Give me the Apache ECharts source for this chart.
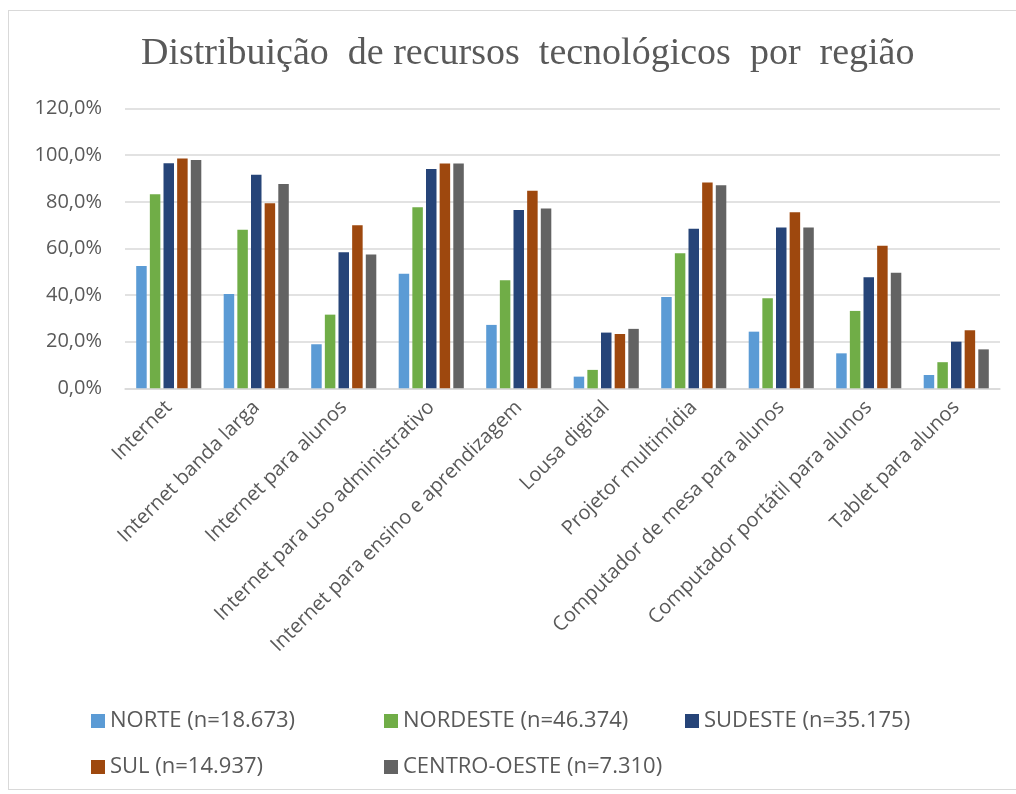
<!DOCTYPE html>
<html>
<head>
<meta charset="utf-8">
<script src="https://cdn.jsdelivr.net/npm/echarts@6/dist/echarts.min.js"></script>
<style>
  html, body { margin: 0; padding: 0; background: #fff; }
  #frame {
    position: absolute;
    left: 8px; top: 10px;
    width: 1020px; height: 780px;
    border: 1px solid #d9d9d9;
    box-sizing: border-box;
  }
  #chart { position: absolute; left: 0; top: 0; width: 1016px; height: 794px; }
</style>
</head>
<body>
<div id="frame"></div>
<div id="chart"></div>
<script>
  // categorias do eixo x
  var categories = [
    'Internet',
    'Internet banda larga',
    'Internet para alunos',
    'Internet para uso administrativo',
    'Internet para ensino e aprendizagem',
    'Lousa digital',
    'Projetor multimídia',
    'Computador de mesa para alunos',
    'Computador portátil para alunos',
    'Tablet para alunos'
  ];

  var seriesNames = ['NORTE (n=18.673)', 'NORDESTE (n=46.374)', 'SUDESTE (n=35.175)', 'SUL (n=14.937)', 'CENTRO-OESTE (n=7.310)'];

  var norte = [52.5, 40.5, 18.9, 49.1, 27.2, 5.0, 39.2, 24.3, 15.0, 5.7];
  var nordeste = [83.3, 68.0, 31.6, 77.7, 46.4, 7.9, 57.9, 38.6, 33.2, 11.2];
  var sudeste = [96.6, 91.6, 58.4, 94.1, 76.5, 23.9, 68.4, 69.0, 47.6, 20.0];
  var sul = [98.6, 79.4, 70.0, 96.4, 84.8, 23.3, 88.3, 75.5, 61.2, 24.9];
  var centroOeste = [98.0, 87.7, 57.4, 96.4, 77.1, 25.5, 87.1, 69.0, 49.6, 16.7];

  var colors = ['#5B9BD5', '#70AD47', '#264478', '#9E480E', '#636363'];

  var allData = [norte, nordeste, sudeste, sul, centroOeste];

  var series = [];
  allData.forEach(function (values, i) {
    series.push({
      type: 'bar',
      name: seriesNames[i],
      data: values,
      barWidth: 10.5,
      barGap: '30%',
      itemStyle: { color: colors[i] }
    });
  });

  var labelFont = '"Open Sans", sans-serif';

  /*cada item da legenda posicionado como no original*/
  function legendAt(name, left, top) {
    return {
      data: [name],
      left: left,
      top: top,
      icon: 'rect',
      itemWidth: 14,
      itemHeight: 14,
      textStyle: { color: '#595959', fontSize: 22, fontFamily: labelFont }
    };
  }

  var chart = echarts.init(document.getElementById('chart'));

  chart.setOption({
    animation: false,
    color: colors,
    title: {
      text: 'Distribuição  de recursos  tecnológicos  por  região',
      left: 136,
      top: 30,
      textStyle: {
        fontFamily: '"Liberation Serif", serif',
        fontWeight: 'normal',
        fontSize: 38,
        color: '#595959'
      }
    },
    legend: [
      legendAt(seriesNames[0], 86, 705),
      legendAt(seriesNames[1], 379, 705),
      legendAt(seriesNames[2], 680, 705),
      legendAt(seriesNames[3], 86, 751),
      legendAt(seriesNames[4], 379, 751)
    ],
    grid: {
      left: 125,
      right: 16,
      top: 108.6,
      bottom: 405.7
    },
    xAxis: {
      type: 'category',
      data: categories,
      axisLine: { lineStyle: { color: '#d9d9d9', width: 1.5 } },
      axisTick: { show: false },
      axisLabel: {
        rotate: 45,
        interval: 0,
        margin: 16,
        color: '#595959',
        fontSize: 20,
        fontFamily: labelFont
      }
    },
    yAxis: {
      type: 'value',
      min: 0,
      max: 120,
      interval: 20,
      axisLine: { show: false },
      axisTick: { show: false },
      splitLine: { lineStyle: { color: '#d9d9d9', width: 1.5 } },
      axisLabel: {
        margin: 23,
        color: '#595959',
        fontSize: 20,
        fontFamily: labelFont,
        formatter: function (v) {
          return v.toFixed(1).replace('.', ',') + '%';
        }
      }
    },
    series: series
  });
</script>
</body>
</html>
